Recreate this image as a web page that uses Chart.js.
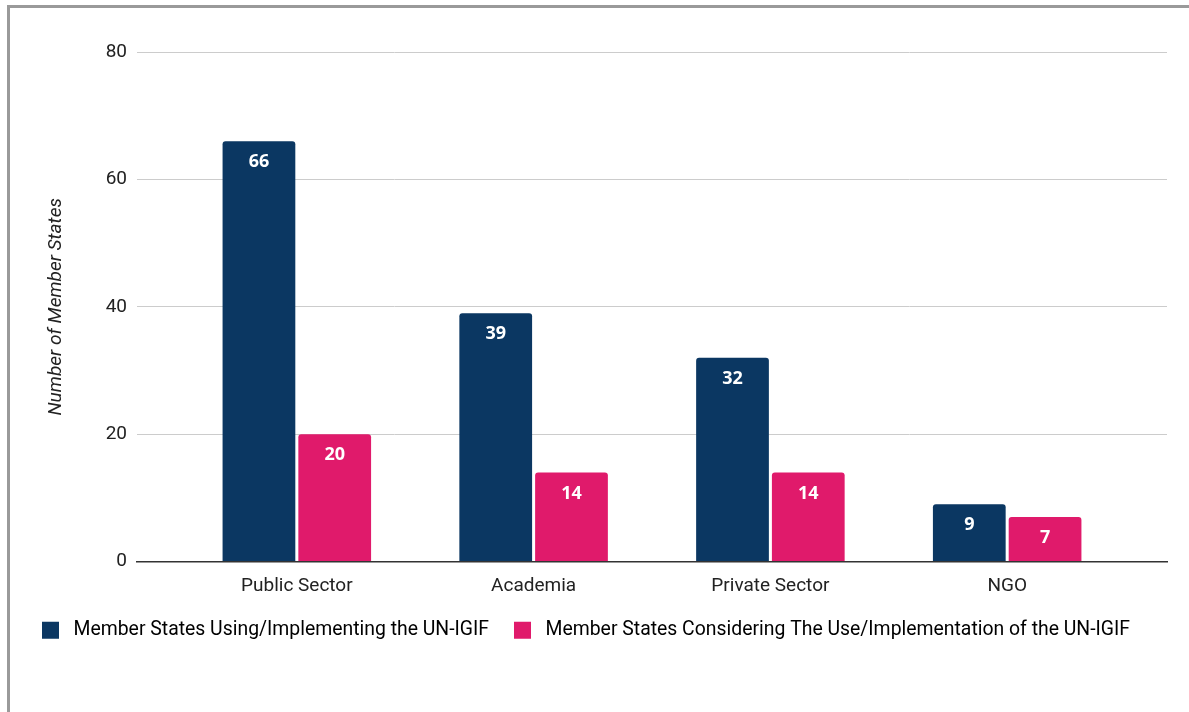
<!DOCTYPE html>
<html>
<head>
<meta charset="utf-8">
<script src="https://cdn.jsdelivr.net/npm/chart.js@4"></script>
<style>
  html, body { margin: 0; padding: 0; background: #fff; }
  #wrap { position: relative; width: 1189px; height: 712px; }
  #frame { position: absolute; left: 7px; top: 5px; right: 0; bottom: 0;
           border-left: 3px solid #9a9a9a; border-top: 3px solid #9a9a9a; pointer-events: none; }
</style>
</head>
<body>
<div id="wrap">
  <canvas id="chart"></canvas>
  <div id="frame"></div>
</div>
<script>
const categories = ['Public Sector', 'Academia', 'Private Sector', 'NGO'];
const usingValues = [66, 39, 32, 9];
const consideringValues = [20, 14, 14, 7];
const seriesNames = [
  'Member States Using/Implementing the UN-IGIF',
  'Member States Considering The Use/Implementation of the UN-IGIF'
];
const yTicks = [0, 20, 40, 60, 80];

Chart.defaults.font.family = 'Roboto, sans-serif';
Chart.defaults.font.size = 19;
Chart.defaults.color = '#222';

// white value labels just under the top of each bar
const barLabels = {
  id: 'barLabels',
  afterDatasetsDraw(chart) {
    const ctx = chart.ctx;
    ctx.save();
    ctx.fillStyle = '#fff';
    ctx.font = 'bold 18px "Open Sans", Roboto, sans-serif';
    ctx.textAlign = 'center';
    ctx.textBaseline = 'middle';
    chart.data.datasets.forEach((ds, di) => {
      chart.getDatasetMeta(di).data.forEach((bar, i) => {
        ctx.fillText(ds.data[i].y, bar.x, bar.y + 21);
      });
    });
    ctx.restore();
  }
};

const toPoints = vals => vals.map((v, i) => ({ x: i, y: v }));

new Chart(document.getElementById('chart'), {
  type: 'bar',
  data: {
    datasets: [{
      label: seriesNames[0],
      data: toPoints(usingValues),
      backgroundColor: '#0B3762',
      borderRadius: { topLeft: 3, topRight: 3 },
      categoryPercentage: 0.64,
      barPercentage: 0.96
    }, {
      label: seriesNames[1],
      data: toPoints(consideringValues),
      backgroundColor: '#E01A6B',
      borderRadius: { topLeft: 3, topRight: 3 },
      categoryPercentage: 0.64,
      barPercentage: 0.96
    }]
  },
  options: {
    responsive: true,
    maintainAspectRatio: false,
    animation: false,
    layout: { padding: { top: 52, right: 22, bottom: 62, left: 17 } },
    scales: {
      x: {
        type: 'linear',
        offset: false,
        min: -0.675,
        max: 3.675,
        afterBuildTicks: s => { s.ticks = categories.map((c, i) => ({ value: i })); },
        afterFit: s => { s.height = 34; },
        ticks: { callback: v => categories[v], padding: 5, maxRotation: 0 },
        grid: { display: false, offset: false },
        border: { display: true, color: '#333', width: 1.5 }
      },
      y: {
        min: 0,
        max: 80,
        afterBuildTicks: s => { s.ticks = yTicks.map(v => ({ value: v })); },
        afterFit: s => { s.width = 120; },
        ticks: { padding: 10 },
        grid: { color: '#ccc', drawTicks: false },
        border: { display: false },
        title: {
          display: true,
          text: 'Number of Member States',
          font: { style: 'italic', size: 19 },
          padding: { top: 28 }
        }
      }
    },
    plugins: {
      legend: {
        position: 'bottom',
        align: 'start',
        labels: {
          boxWidth: 17, boxHeight: 17, padding: 25,
          font: { size: 19.4 },
          useBorderRadius: true, borderRadius: 2,
          generateLabels: chart => chart.data.datasets.map((ds, i) => ({
            text: ' ' + ds.label,
            fillStyle: ds.backgroundColor,
            strokeStyle: ds.backgroundColor,
            lineWidth: 0,
            hidden: false,
            datasetIndex: i
          }))
        }
      },
      tooltip: { enabled: false }
    }
  },
  plugins: [barLabels]
});
</script>
</body>
</html>
